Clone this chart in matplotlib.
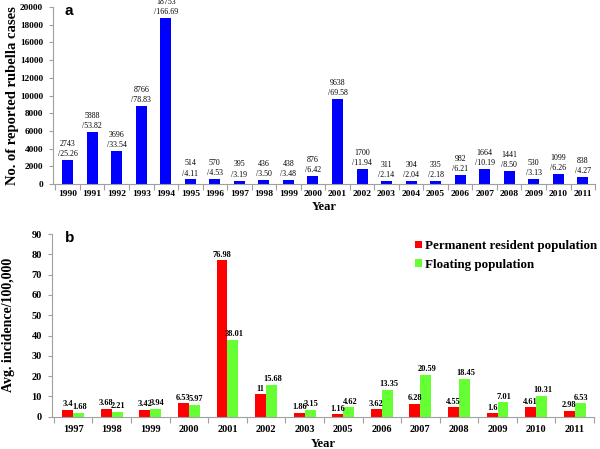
import matplotlib
matplotlib.use("Agg")
import matplotlib.pyplot as plt
import numpy as np

years_a = ["1990","1991","1992","1993","1994","1995","1996","1997","1998","1999","2000",
           "2001","2002","2003","2004","2005","2006","2007","2008","2009","2010","2011"]
cases = [2743,5888,3696,8766,18753,514,570,395,436,438,876,9638,1700,311,304,335,982,1664,1441,530,1099,838]
rates = ["25.26","53.82","33.54","78.83","166.69","4.11","4.53","3.19","3.50","3.48","6.42",
         "69.58","11.94","2.14","2.04","2.18","6.21","10.19","8.50","3.13","6.26","4.27"]

years_b = ["1997","1998","1999","2000","2001","2002","2003","2005","2006","2007","2008","2009","2010","2011"]
permanent = [3.4,3.68,3.42,6.53,76.98,11,1.86,1.16,3.62,6.28,4.55,1.6,4.61,2.98]
floating = [1.68,2.21,3.94,5.97,38.01,15.68,3.15,4.62,13.35,20.59,18.45,7.01,10.31,6.53]
perm_lbl = ["3.4","3.68","3.42","6.53","76.98","11","1.86","1.16","3.62","6.28","4.55","1.6","4.61","2.98"]
flo_lbl = ["1.68","2.21","3.94","5.97","38.01","15.68","3.15","4.62","13.35","20.59","18.45","7.01","10.31","6.53"]

serif = "Liberation Serif"
sans = "Liberation Sans"
spine_c = "#a0a0a0"

fig = plt.figure(figsize=(6, 4.49), dpi=100)

def style(ax, xfs, yfs, xpad):
    for s in ["top", "right"]:
        ax.spines[s].set_visible(False)
    for s in ["left", "bottom"]:
        ax.spines[s].set_color(spine_c)
        ax.spines[s].set_linewidth(0.8)
    ax.tick_params(axis="y", colors=spine_c, labelcolor="black", length=3, width=0.8, pad=4)
    ax.tick_params(axis="x", which="major", length=0, pad=xpad)
    ax.tick_params(axis="x", which="minor", colors=spine_c, length=4, width=0.8)
    for lab in ax.get_yticklabels():
        lab.set_fontfamily(serif)
        lab.set_fontweight("bold")
        lab.set_fontsize(yfs)
    for lab in ax.get_xticklabels():
        lab.set_fontfamily(serif)
        lab.set_fontweight("bold")
        lab.set_fontsize(xfs)

# Panel a
ax1 = fig.add_axes([0.0878, 0.5902, 0.904, 0.3942])
x1 = np.arange(len(years_a))
ax1.bar(x1, cases, width=0.45, color="#0000ff")
ax1.set_xlim(-0.61, len(years_a) - 0.5)
ax1.set_ylim(0, 20000)
ax1.set_yticks(np.arange(0, 20001, 2000))
ax1.set_xticks(x1)
ax1.set_xticklabels(years_a)
ax1.set_xticks(np.arange(-0.5, len(years_a), 1), minor=True)
style(ax1, 6.8, 6.7, 4.5)
for xi, c, r in zip(x1, cases, rates):
    ax1.text(xi, c + 220, f"{c}\n/{r}", ha="center", va="bottom", fontsize=5.7,
             family=serif, linespacing=1.35, clip_on=False)
ax1.set_ylabel("No. of reported rubella cases", family=serif, fontweight="bold", fontsize=10.5)
ax1.yaxis.set_label_coords(-0.062, 0.5)
ax1.set_xlabel("Year", family=serif, fontweight="bold", fontsize=9, labelpad=2)
fig.text(0.108, 0.975, "a", family=sans, fontweight="bold", fontsize=11, va="center")

# Panel b
ax2 = fig.add_axes([0.0862, 0.0719, 0.9038, 0.4069])
x2 = np.arange(len(years_b))
w = 0.283
ax2.bar(x2 - w / 2, permanent, width=w, color="#ff0000", label="Permanent resident population")
ax2.bar(x2 + w / 2, floating, width=w, color="#66ff33", label="Floating population")
ax2.set_xlim(-0.556, len(years_b) - 0.6)
ax2.set_ylim(0, 90)
ax2.set_yticks(np.arange(0, 91, 10))
ax2.set_xticks(x2)
ax2.set_xticklabels(years_b)
ax2.set_xticks(np.arange(-0.5, len(years_b), 1), minor=True)
style(ax2, 7.5, 7.5, 6)
for xi, p, f, pl, fl in zip(x2, permanent, floating, perm_lbl, flo_lbl):
    ax2.text(xi - w / 2, p + 0.9, pl, ha="center", va="bottom", fontsize=6, family=serif, fontweight="bold")
    ax2.text(xi + w / 2 + 0.03, f + 0.9, fl, ha="center", va="bottom", fontsize=6, family=serif, fontweight="bold")
ax2.set_ylabel("Avg. incidence/100,000", family=serif, fontweight="bold", fontsize=10)
ax2.yaxis.set_label_coords(-0.068, 0.5)
ax2.set_xlabel("Year", family=serif, fontweight="bold", fontsize=9, labelpad=3)
fig.text(0.108, 0.47, "b", family=sans, fontweight="bold", fontsize=11, va="center")
leg = ax2.legend(loc="upper left", bbox_to_anchor=(415 / 600, 1 - 240 / 449),
                 bbox_transform=fig.transFigure, frameon=False, borderpad=0, borderaxespad=0,
                 prop={"family": serif, "weight": "bold", "size": 9.4},
                 handlelength=0.5, handleheight=0.5, handletextpad=0.3, labelspacing=0.5)

fig.savefig("out.png", dpi=100)
